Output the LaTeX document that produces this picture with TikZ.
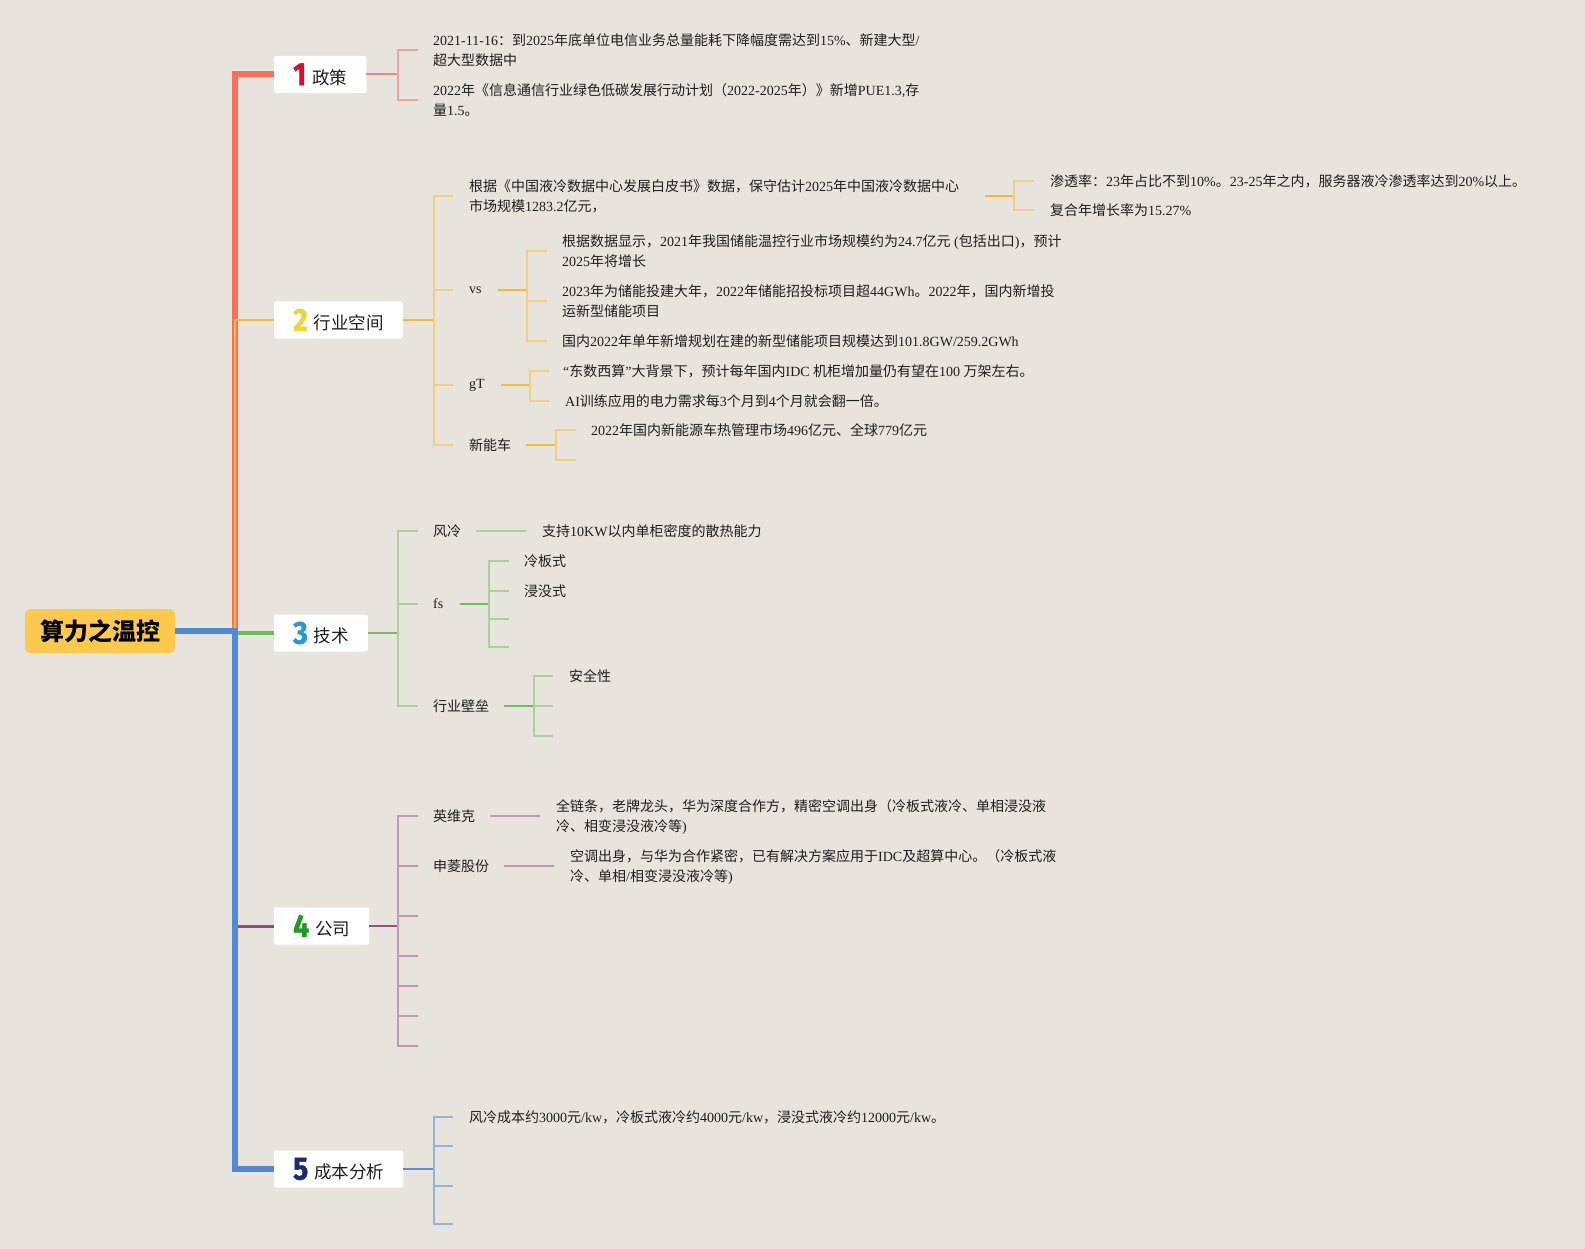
\documentclass[tikz,border=0pt]{standalone}
\usepackage{fontspec}
\setmainfont{Liberation Serif}
\newfontfamily\cjkf{Noto Sans CJK SC}
\newfontfamily\latf{Liberation Serif}
\newfontfamily\numf[BoldFeatures={FakeBold=1.5}]{Fira Sans}
\newXeTeXintercharclass\mycjkclass
\newcount\mycnt
\def\setcjkrange#1#2{\mycnt=#1\relax\loop\XeTeXcharclass\mycnt=\mycjkclass\relax\ifnum\mycnt<#2\relax\advance\mycnt by 1\relax\repeat}
\setcjkrange{"3000}{"303F}
\setcjkrange{"4E00}{"9FFF}
\setcjkrange{"FF00}{"FFEF}
\XeTeXinterchartoks 0 \mycjkclass = {\cjkf}
\XeTeXinterchartoks 4095 \mycjkclass = {\cjkf}
\XeTeXinterchartoks \mycjkclass 0 = {\latf}
\XeTeXinterchartoks \mycjkclass 4095 = {\latf}
\XeTeXinterchartokenstate=1

\definecolor{bgc}{RGB}{231,228,221}
\definecolor{rootc}{RGB}{253,201,76}
\definecolor{l1}{RGB}{252,110,92}
\definecolor{l2}{RGB}{246,185,56}
\definecolor{l3}{RGB}{108,191,80}
\definecolor{l4}{RGB}{150,72,132}
\definecolor{l5}{RGB}{82,137,212}
\definecolor{m1c}{RGB}{238,136,124}
\definecolor{s1c}{RGB}{240,165,155}
\definecolor{m2c}{RGB}{245,186,52}
\definecolor{s2c}{RGB}{243,206,125}
\definecolor{m3c}{RGB}{112,190,86}
\definecolor{s3c}{RGB}{168,210,152}
\definecolor{m4c}{RGB}{152,80,138}
\definecolor{s4c}{RGB}{196,150,184}
\definecolor{m5c}{RGB}{90,142,208}
\definecolor{s5c}{RGB}{146,178,216}
\definecolor{n1}{RGB}{211,16,46}
\definecolor{n2}{RGB}{240,210,58}
\definecolor{n3}{RGB}{38,152,214}
\definecolor{n4}{RGB}{30,152,40}
\definecolor{n5}{RGB}{28,40,120}
\definecolor{txtc}{RGB}{30,30,30}

\newcommand\numlbl[2]{{\numf\bfseries\fontsize{32}{32}\selectfont\color{#1}\raisebox{-1pt}{\scalebox{0.88}[1]{#2}}}\hspace{6pt}}

\tikzset{
  rootbox/.style={fill=rootc, rounded corners=6pt, minimum width=150pt, minimum height=44pt, inner sep=0pt, text=black, font=\fontsize{24}{28}\selectfont},
  topic/.style={anchor=west, fill=white, rounded corners=2pt, minimum height=37pt, inner xsep=19pt, inner ysep=0pt, text=txtc, font=\fontsize{17.5}{20}\selectfont},
  txt/.style={anchor=west, inner sep=0pt, align=left, text=txtc, font=\fontsize{14}{20}\selectfont},
  br1/.style={draw=l1, line width=6pt},
  br2/.style={draw=l2, line width=2.5pt},
  br3/.style={draw=l3, line width=4.5pt},
  br4/.style={draw=l4, line width=3pt},
  br5/.style={draw=l5, line width=5.5pt},
  m1/.style={draw=m1c, line width=2pt},
  s1/.style={draw=s1c, line width=1.6pt},
  m2/.style={draw=m2c, line width=2pt},
  s2/.style={draw=s2c, line width=1.6pt},
  m3/.style={draw=m3c, line width=2pt},
  s3/.style={draw=s3c, line width=1.6pt},
  m4/.style={draw=m4c, line width=2pt},
  s4/.style={draw=s4c, line width=1.6pt},
  m5/.style={draw=m5c, line width=2pt},
  s5/.style={draw=s5c, line width=1.6pt}
}

\begin{document}
\begin{tikzpicture}[x=1pt,y=-1pt]
\useasboundingbox (0,0) rectangle (1585,1249);
\fill[bgc] (0,0) rectangle (1585,1249);

% root and topics
\node[rootbox] (root) at (100,631) {\bfseries 算力之温控};
\node[topic] (b1) at (274,74.5) {\numlbl{n1}{1}政策};
\node[topic] (b2) at (274,320) {\numlbl{n2}{2}行业空间};
\node[topic] (b3) at (274,633) {\numlbl{n3}{3}技术};
\node[topic] (b4) at (274,926) {\numlbl{n4}{4}公司};
\node[topic] (b5) at (274,1169) {\numlbl{n5}{5}成本分析};

\coordinate (trunk) at (235,631);
\draw[br1] (root.east) -- (trunk) |- (b1.west);
\draw[br2] (root.east) -- (trunk) |- (b2.west);
\draw[br3] (trunk) |- (b3.west);
\draw[br4] (trunk) |- (b4.west);
\draw[br5] (root.east) -- (trunk) |- (b5.west);

% branch 1
\node[txt] (t11) at (433,50) {2021-11-16：到2025年底单位电信业务总量能耗下降幅度需达到15\%、新建大型/\\超大型数据中};
\node[txt] (t12) at (433,100) {2022年《信息通信行业绿色低碳发展行动计划（2022-2025年）》新增PUE1.3,存\\量1.5。};
\coordinate (j1) at (398,74.5);
\draw[m1] (b1.east) -- (j1);
\draw[s1] (j1) |- ([xshift=-15pt]t11.west);
\draw[s1] (j1) |- ([xshift=-15pt]t12.west);

% branch 2
\node[txt] (t21) at (469,196) {根据《中国液冷数据中心发展白皮书》数据，保守估计2025年中国液冷数据中心\\市场规模1283.2亿元，};
\node[txt] (t211) at (1050,181) {渗透率：23年占比不到10\%。23-25年之内，服务器液冷渗透率达到20\%以上。};
\node[txt] (t212) at (1050,210) {复合年增长率为15.27\%};
\node[txt] (vs) at (469,290) {vs};
\node[txt] (t221) at (562,251) {根据数据显示，2021年我国储能温控行业市场规模约为24.7亿元 (包括出口)，预计\\2025年将增长};
\node[txt] (t222) at (562,301) {2023年为储能投建大年，2022年储能招投标项目超44GWh。2022年，国内新增投\\运新型储能项目};
\node[txt] (t223) at (562,341) {国内2022年单年新增规划在建的新型储能项目规模达到101.8GW/259.2GWh};
\node[txt] (gt) at (469,385) {gT};
\node[txt] (t231) at (563,371) {“东数西算”大背景下，预计每年国内IDC 机柜增加量仍有望在100 万架左右。};
\node[txt] (t232) at (565,401) {AI训练应用的电力需求每3个月到4个月就会翻一倍。};
\node[txt] (nev) at (469,445) {新能车};
\node[txt] (t241) at (591,430) {2022年国内新能源车热管理市场496亿元、全球779亿元};

\coordinate (j2) at (434,320);
\coordinate (j21) at (1014,196);
\coordinate (j22) at (527,290);
\coordinate (j23) at (530,385);
\coordinate (j24) at (556,445);
\coordinate (e241) at (576,460);
\draw[m2] (b2.east) -- (j2);
\draw[s2] (j2) |- ([xshift=-16pt]t21.west);
\draw[s2] (j2) |- ([xshift=-16pt]vs.west);
\draw[s2] (j2) |- ([xshift=-16pt]gt.west);
\draw[s2] (j2) |- ([xshift=-16pt]nev.west);
\draw[m2] ([xshift=26pt]t21.east) -- (j21);
\draw[s2] (j21) |- ([xshift=-16pt]t211.west);
\draw[s2] (j21) |- ([xshift=-16pt]t212.west);
\draw[m2] ([xshift=16pt]vs.east) -- (j22);
\draw[s2] (j22) |- ([xshift=-15pt]t221.west);
\draw[s2] (j22) |- ([xshift=-15pt]t222.west);
\draw[s2] (j22) |- ([xshift=-15pt]t223.west);
\draw[m2] ([xshift=16pt]gt.east) -- (j23);
\draw[s2] (j23) |- ([xshift=-14pt]t231.west);
\draw[s2] (j23) |- ([xshift=-16pt]t232.west);
\draw[m2] ([xshift=15pt]nev.east) -- (j24);
\draw[s2] (j24) |- ([xshift=-15pt]t241.west);
\draw[s2] (j24) |- (e241);

% branch 3
\node[txt] (fl) at (433,531) {风冷};
\node[txt] (t31) at (542,531) {支持10KW以内单柜密度的散热能力};
\node[txt] (fs) at (433,604) {fs};
\node[txt] (t321) at (524,561) {冷板式};
\node[txt] (t322) at (524,591) {浸没式};
\node[txt] (hy) at (433,706) {行业壁垒};
\node[txt] (t331) at (569,676) {安全性};
\coordinate (j3) at (398,633);
\coordinate (j32) at (489,604);
\coordinate (j33) at (534,706);
\coordinate (e323) at (509,619);
\coordinate (e324) at (509,647);
\coordinate (e332) at (553,706);
\coordinate (e333) at (553,736);
\draw[m3] (b3.east) -- (j3);
\draw[s3] (j3) |- ([xshift=-15pt]fl.west);
\draw[s3] (j3) |- ([xshift=-15pt]fs.west);
\draw[s3] (j3) |- ([xshift=-15pt]hy.west);
\draw[s3] ([xshift=15pt]fl.east) -- ([xshift=-16pt]t31.west);
\draw[m3] ([xshift=16pt]fs.east) -- (j32);
\draw[s3] (j32) |- ([xshift=-15pt]t321.west);
\draw[s3] (j32) |- ([xshift=-15pt]t322.west);
\draw[s3] (j32) |- (e323);
\draw[s3] (j32) |- (e324);
\draw[m3] ([xshift=15pt]hy.east) -- (j33);
\draw[s3] (j33) |- ([xshift=-16pt]t331.west);
\draw[s3] (j33) |- (e332);
\draw[s3] (j33) |- (e333);

% branch 4
\node[txt] (ywk) at (433,816) {英维克};
\node[txt] (t41) at (556,817) {全链条，老牌龙头，华为深度合作方，精密空调出身（冷板式液冷、单相浸没液\\冷、相变浸没液冷等)};
\node[txt] (slg) at (433,866) {申菱股份};
\node[txt] (t42) at (570,867) {空调出身，与华为合作紧密，已有解决方案应用于IDC及超算中心。（冷板式液\\冷、单相/相变浸没液冷等)};
\coordinate (j4) at (398,926);
\coordinate (e43) at (418,916);
\coordinate (e44) at (418,956);
\coordinate (e45) at (418,986);
\coordinate (e46) at (418,1016);
\coordinate (e47) at (418,1046);
\draw[m4] (b4.east) -- (j4);
\draw[s4] (j4) |- ([xshift=-15pt]ywk.west);
\draw[s4] (j4) |- ([xshift=-15pt]slg.west);
\draw[s4] (j4) |- (e43);
\draw[s4] (j4) |- (e44);
\draw[s4] (j4) |- (e45);
\draw[s4] (j4) |- (e46);
\draw[s4] (j4) |- (e47);
\draw[s4] ([xshift=15pt]ywk.east) -- ([xshift=-16pt]t41.west |- ywk.east);
\draw[s4] ([xshift=15pt]slg.east) -- ([xshift=-16pt]t42.west |- slg.east);

% branch 5
\node[txt] (t51) at (469,1117) {风冷成本约3000元/kw，冷板式液冷约4000元/kw，浸没式液冷约12000元/kw。};
\coordinate (j5) at (434,1169);
\coordinate (e52) at (453,1146);
\coordinate (e53) at (453,1186);
\coordinate (e54) at (453,1224);
\draw[m5] (b5.east) -- (j5);
\draw[s5] (j5) |- ([xshift=-16pt]t51.west);
\draw[s5] (j5) |- (e52);
\draw[s5] (j5) |- (e53);
\draw[s5] (j5) |- (e54);
\end{tikzpicture}
\end{document}
